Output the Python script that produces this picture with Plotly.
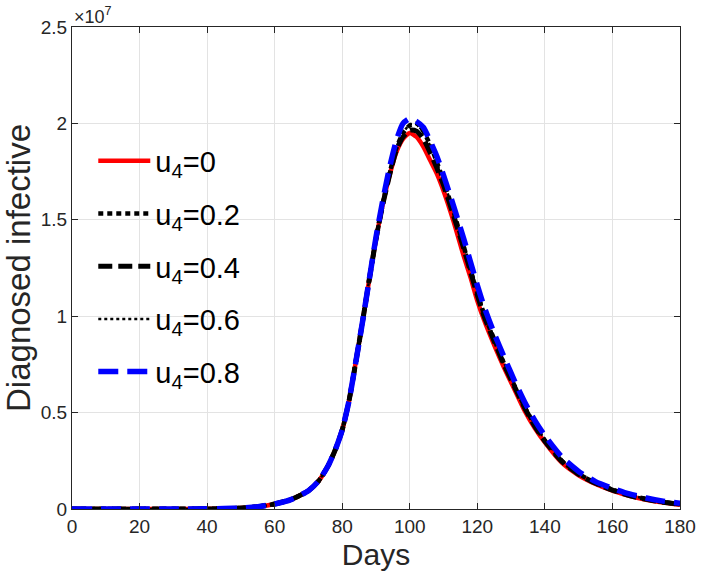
import plotly.graph_objects as go

# values in units of 1e7
DAYS = [0, 10, 20, 30, 40, 45, 50, 55, 60, 65, 70, 73, 76, 78, 80, 82, 84, 86, 88, 90,
        92, 94, 96, 98, 100, 102, 104, 106, 108, 110, 113, 116, 118, 120, 122, 125, 128,
        131, 134, 137, 140, 145, 150, 155, 160, 165, 170, 175, 180]

U4_0 = [0, 0, 0, 0.0003, 0.001, 0.002, 0.005, 0.012, 0.026, 0.05, 0.095, 0.145, 0.23, 0.31,
        0.41, 0.56, 0.76, 0.97, 1.19, 1.40, 1.58, 1.73, 1.85, 1.92, 1.95, 1.93, 1.88, 1.81,
        1.74, 1.65, 1.49, 1.31, 1.20, 1.08, 0.98, 0.85, 0.73, 0.62, 0.51, 0.42, 0.345, 0.24,
        0.175, 0.13, 0.095, 0.068, 0.048, 0.033, 0.022]
U4_02 = [0, 0, 0, 0.0003, 0.001, 0.002, 0.005, 0.012, 0.026, 0.05, 0.095, 0.145, 0.23, 0.31,
         0.41, 0.56, 0.76, 0.97, 1.19, 1.40, 1.58, 1.74, 1.87, 1.95, 1.99, 2.00, 1.96, 1.89,
         1.80, 1.70, 1.54, 1.36, 1.24, 1.12, 1.01, 0.88, 0.75, 0.64, 0.53, 0.435, 0.355, 0.25,
         0.183, 0.135, 0.10, 0.072, 0.052, 0.036, 0.025]
U4_04 = [0, 0, 0, 0.0003, 0.001, 0.002, 0.005, 0.012, 0.026, 0.05, 0.095, 0.145, 0.23, 0.31,
         0.41, 0.56, 0.76, 0.97, 1.19, 1.40, 1.58, 1.73, 1.86, 1.93, 1.965, 1.96, 1.92, 1.85,
         1.77, 1.68, 1.52, 1.35, 1.23, 1.11, 1.00, 0.87, 0.745, 0.635, 0.525, 0.43, 0.352,
         0.247, 0.18, 0.133, 0.098, 0.07, 0.05, 0.035, 0.024]
U4_06 = [0, 0, 0, 0.0003, 0.001, 0.002, 0.005, 0.012, 0.026, 0.05, 0.095, 0.145, 0.23, 0.31,
         0.41, 0.56, 0.76, 0.97, 1.19, 1.40, 1.58, 1.74, 1.87, 1.95, 1.995, 1.995, 1.955,
         1.885, 1.80, 1.70, 1.545, 1.37, 1.25, 1.13, 1.02, 0.885, 0.755, 0.645, 0.535, 0.44,
         0.36, 0.253, 0.185, 0.137, 0.10, 0.073, 0.053, 0.037, 0.026]
U4_08 = [0, 0, 0, 0.0003, 0.001, 0.002, 0.005, 0.012, 0.026, 0.05, 0.095, 0.145, 0.23, 0.31,
         0.41, 0.56, 0.76, 0.97, 1.19, 1.41, 1.60, 1.77, 1.91, 2.00, 2.025, 2.01, 1.98, 1.91,
         1.83, 1.73, 1.57, 1.40, 1.28, 1.16, 1.05, 0.91, 0.785, 0.665, 0.555, 0.46, 0.38,
         0.27, 0.195, 0.142, 0.107, 0.078, 0.057, 0.041, 0.03]

SERIES = [
    ("u<sub>4</sub>=0", U4_0, "#ff0000", 4.5, "solid"),
    ("u<sub>4</sub>=0.2", U4_02, "#000000", 4.5, "5px,4px"),
    ("u<sub>4</sub>=0.4", U4_04, "#000000", 5, "14px,6px"),
    ("u<sub>4</sub>=0.6", U4_06, "#000000", 2.5, "3px,3px"),
    ("u<sub>4</sub>=0.8", U4_08, "#0000ff", 5.5, "20px,9px"),
]

X_TICKS = list(range(0, 181, 20))
Y_TICKS = [0, 0.5e7, 1e7, 1.5e7, 2e7, 2.5e7]
Y_TICK_TEXT = ["0", "0.5", "1", "1.5", "2", "2.5"]

FONT = "Liberation Sans, Arial, sans-serif"
AXIS_COLOR = "#262626"

fig = go.Figure()
for i, (name, values, color, width, dash) in enumerate(SERIES):
    fig.add_trace(
        go.Scatter(
            x=DAYS,
            y=[v * 1e7 for v in values],
            mode="lines",
            name=name,
            legendgroup=f"g{i}",
            line={"color": color, "width": width, "dash": dash, "shape": "spline", "smoothing": 0.6},
        )
    )

axis_common = dict(
    showline=True,
    linecolor=AXIS_COLOR,
    linewidth=1,
    mirror="ticks",
    ticks="inside",
    ticklen=6,
    tickcolor=AXIS_COLOR,
    showgrid=True,
    gridcolor="#e3e3e3",
    gridwidth=1,
    zeroline=False,
    tickfont={"size": 19, "color": AXIS_COLOR, "family": FONT},
)

fig.update_xaxes(
    range=[0, 180],
    tickvals=X_TICKS,
    title={"text": "Days", "font": {"size": 30, "color": AXIS_COLOR, "family": FONT}, "standoff": 8},
    **axis_common,
)
fig.update_yaxes(
    range=[0, 2.5e7],
    tickvals=Y_TICKS,
    ticktext=Y_TICK_TEXT,
    title={"text": "Diagnosed infective", "font": {"size": 33, "color": AXIS_COLOR, "family": FONT}, "standoff": 6},
    **axis_common,
)

fig.add_annotation(
    x=0, y=1, xref="paper", yref="paper",
    xanchor="left", yanchor="bottom", yshift=-2,
    text="×10<sup>7</sup>", showarrow=False,
    font={"size": 18, "color": AXIS_COLOR, "family": FONT},
)

fig.update_layout(
    width=708,
    height=581,
    plot_bgcolor="white",
    paper_bgcolor="white",
    margin={"l": 72, "r": 18, "t": 27, "b": 72},
    showlegend=True,
    legend={
        "x": 0.035,
        "y": 0.775,
        "xanchor": "left",
        "yanchor": "top",
        "bgcolor": "rgba(0,0,0,0)",
        "font": {"size": 29, "color": "#000000", "family": FONT},
        "tracegroupgap": 12,
        "itemwidth": 52,
    },
)

fig.write_html(
    "out.html",
    config={"displayModeBar": False},
    post_script="document.body.style.margin='0';",
)
